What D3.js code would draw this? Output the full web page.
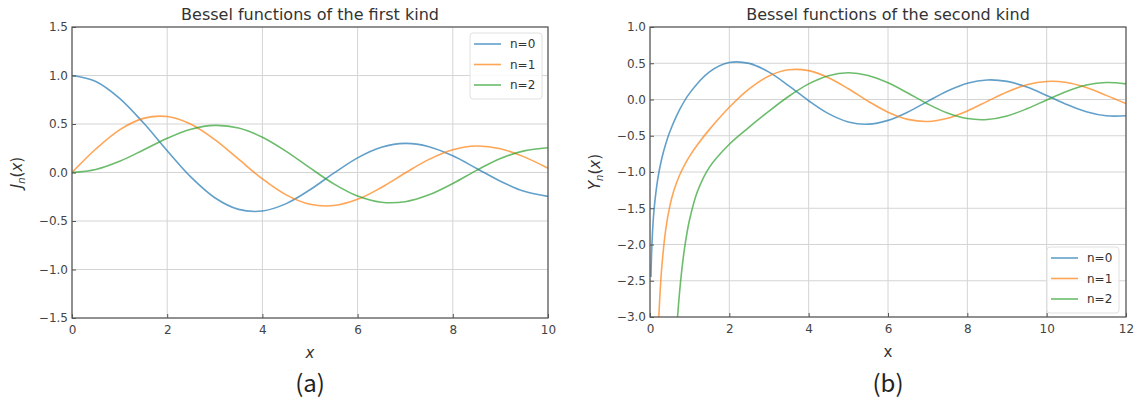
<!DOCTYPE html>
<html>
<head>
<meta charset="utf-8">
<script src="https://cdn.jsdelivr.net/npm/d3@7"></script>
<style>
body { margin: 0; background: #fff; }
text { font-family: "DejaVu Sans", sans-serif; fill: #333; }
</style>
</head>
<body>
<svg width="1135" height="403"></svg>
<script>
// values (first kind, x = 0 .. 10)
const jX = [0,0.5,1,1.5,2,2.5,3,3.5,4,4.5,5,5.5,6,6.5,7,7.5,8,8.5,9,9.5,10]
const j0 = [1,0.939,0.765,0.512,0.224,-0.048,-0.260,-0.380,-0.397,-0.321,-0.178,-0.007,0.151,0.260,0.300,0.266,0.172,0.042,-0.090,-0.194,-0.246]
const j1 = [0,0.242,0.440,0.558,0.577,0.497,0.339,0.137,-0.066,-0.231,-0.328,-0.341,-0.277,-0.154,-0.005,0.135,0.235,0.273,0.245,0.161,0.044]
const j2 = [0,0.031,0.115,0.232,0.353,0.446,0.486,0.459,0.364,0.218,0.047,-0.117,-0.243,-0.307,-0.301,-0.230,-0.113,0.022,0.145,0.223,0.255]

// second kind, x = 0 .. 12 (denser near the singularity)
const y0X = [0.024,0.05,0.1,0.2,0.3,0.4,0.5,0.75,1,1.5,2,2.5,3,3.5,4,4.5,5,5.5,6,6.5,7,7.5,8,8.5,9,9.5,10,10.5,11,11.5,12]
const y0 = [-2.448,-1.979,-1.534,-1.081,-0.807,-0.606,-0.445,-0.137,0.088,0.382,0.510,0.498,0.377,0.189,-0.017,-0.195,-0.309,-0.340,-0.288,-0.173,-0.026,0.117,0.224,0.270,0.250,0.171,0.056,-0.068,-0.169,-0.225,-0.225]
const y1X = [0.1,0.2,0.25,0.3,0.4,0.5,0.6,0.75,0.9,1,1.2,1.5,2,2.5,3,3.5,4,4.5,5,5.5,6,6.5,7,7.5,8,8.5,9,9.5,10,10.5,11,11.5,12]
const y1 = [-6.459,-3.324,-2.705,-2.293,-1.781,-1.471,-1.260,-1.038,-0.873,-0.781,-0.621,-0.412,-0.107,0.146,0.325,0.410,0.398,0.301,0.148,-0.024,-0.175,-0.274,-0.303,-0.259,-0.158,-0.026,0.104,0.203,0.249,0.234,0.164,0.057,-0.057]
const y2X = [0.5,0.6,0.7,0.8,0.9,1,1.2,1.5,2,2.5,3,3.5,4,4.5,5,5.5,6,6.5,7,7.5,8,8.5,9,9.5,10,10.5,11,11.5,12]
const y2 = [-5.441,-3.892,-2.962,-2.359,-1.946,-1.651,-1.263,-0.932,-0.617,-0.381,-0.160,0.045,0.216,0.329,0.368,0.331,0.230,0.089,-0.061,-0.186,-0.263,-0.276,-0.227,-0.128,-0.006,0.112,0.199,0.235,0.216]

const names = ['n=0', 'n=1', 'n=2']
const colors = ['#1f77b4', '#ff7f0e', '#2ca02c']

const xTicksA = [0,2,4,6,8,10]
const yTicksA = [-1.5,-1.0,-0.5,0.0,0.5,1.0,1.5]
const xTicksB = [0,2,4,6,8,10,12]
const yTicksB = [-3.0,-2.5,-2.0,-1.5,-1.0,-0.5,0.0,0.5,1.0]

let svg = d3.select('svg')
let fmt = d3.format('.1f')

function panel(p) {
    let x = d3.scaleLinear().domain(p.xDomain).range([p.left, p.right])
    let y = d3.scaleLinear().domain(p.yDomain).range([p.bottom, p.top])
    let g = svg.append('g')

    // grid
    g.append('g').selectAll('line').data(p.xTicks).enter().append('line')
        .attr('x1', d => x(d)).attr('x2', d => x(d)).attr('y1', p.top).attr('y2', p.bottom)
        .style('stroke', '#d4d4d4').style('stroke-width', 1)
    g.append('g').selectAll('line').data(p.yTicks).enter().append('line')
        .attr('y1', d => y(d)).attr('y2', d => y(d)).attr('x1', p.left).attr('x2', p.right)
        .style('stroke', '#d4d4d4').style('stroke-width', 1)

    // curves
    let clipId = 'clip' + p.id
    svg.append('clipPath').attr('id', clipId).append('rect')
        .attr('x', p.left).attr('y', p.top).attr('width', p.right - p.left).attr('height', p.bottom - p.top)
    let line = d3.line().x(d => x(d[0])).y(d => y(d[1])).curve(d3.curveCatmullRom.alpha(0.5))
    p.series.forEach((s, i) => {
        g.append('path')
            .attr('clip-path', `url(#${clipId})`)
            .attr('d', line(s.xs.map((v, k) => [v, s.ys[k]])))
            .style('fill', 'none')
            .style('stroke', colors[i])
            .style('stroke-opacity', 0.7)
            .style('stroke-width', 1.6)
    })

    // axes (ticks pointing inward)
    let ax = g.append('g').attr('transform', `translate(0,${p.bottom})`)
        .call(d3.axisBottom(x).tickValues(p.xTicks).tickFormat(d3.format('d')).tickSizeInner(-4).tickSizeOuter(0).tickPadding(5))
    let ay = g.append('g').attr('transform', `translate(${p.left},0)`)
        .call(d3.axisLeft(y).tickValues(p.yTicks).tickFormat(fmt).tickSizeInner(-4).tickSizeOuter(0).tickPadding(4))
    ;[ax, ay].forEach(a => {
        a.select('.domain').remove()
        a.selectAll('line').style('stroke', '#555')
        a.selectAll('text').style('font-size', '12px').style('fill', '#444')
            .style('font-family', '"DejaVu Sans", sans-serif')
    })
    ax.selectAll('text').attr('dy', '0.95em')

    g.append('rect')
        .attr('x', p.left).attr('y', p.top).attr('width', p.right - p.left).attr('height', p.bottom - p.top)
        .style('fill', 'none').style('stroke', '#555').style('stroke-width', 1.2)

    // title
    g.append('text').attr('x', (p.left + p.right) / 2).attr('y', p.top - 7)
        .attr('text-anchor', 'middle').style('font-size', '16px').text(p.title)

    // x label
    g.append('text').attr('x', (p.left + p.right) / 2).attr('y', p.bottom + 40)
        .attr('text-anchor', 'middle').style('font-size', '15px')
        .style('font-style', p.xItalic ? 'italic' : 'normal').text('x')

    // y label
    let yl = g.append('text')
        .attr('transform', `translate(${p.yLabelX},${(p.top + p.bottom) / 2}) rotate(-90)`)
        .attr('text-anchor', 'middle').style('font-size', '15px')
    yl.append('tspan').style('font-style', 'italic').text(p.yLetter)
    yl.append('tspan').style('font-style', 'italic').style('font-size', '10px').attr('dy', 3).text('n')
    yl.append('tspan').attr('dy', -3).text('(')
    yl.append('tspan').style('font-style', 'italic').text('x')
    yl.append('tspan').text(')')

    // caption
    g.append('text').attr('x', (p.left + p.right) / 2).attr('y', 392)
        .attr('text-anchor', 'middle').style('font-size', '24px').style('fill', '#222')
        .style('font-family', '"Noto Sans CJK SC", sans-serif').text(p.caption)

    // legend
    let lg = g.append('g').attr('transform', `translate(${p.legend[0]},${p.legend[1]})`)
    lg.append('rect').attr('width', 72).attr('height', 66).attr('rx', 3)
        .style('fill', 'white').style('fill-opacity', 0.85).style('stroke', '#e0e0e0')
    names.forEach((n, i) => {
        lg.append('line').attr('x1', 4).attr('x2', 31).attr('y1', 11 + i * 20.5).attr('y2', 11 + i * 20.5)
            .style('stroke', colors[i]).style('stroke-opacity', 0.7).style('stroke-width', 1.6)
        lg.append('text').attr('x', 40).attr('y', 11 + i * 20.5).attr('dy', '0.35em')
            .style('font-size', '12px').text(n)
    })
}

panel({
    id: 'a', left: 72, right: 548, top: 27, bottom: 318,
    xDomain: [0, 10], yDomain: [-1.5, 1.5], xTicks: xTicksA, yTicks: yTicksA,
    title: 'Bessel functions of the first kind', yLetter: 'J', yLabelX: 22, xItalic: true,
    caption: '(a)', legend: [470, 33],
    series: [{xs: jX, ys: j0}, {xs: jX, ys: j1}, {xs: jX, ys: j2}]
})

panel({
    id: 'b', left: 650, right: 1126, top: 27, bottom: 317,
    xDomain: [0, 12], yDomain: [-3, 1], xTicks: xTicksB, yTicks: yTicksB,
    title: 'Bessel functions of the second kind', yLetter: 'Y', yLabelX: 600, xItalic: false,
    caption: '(b)', legend: [1047, 247],
    series: [{xs: y0X, ys: y0}, {xs: y1X, ys: y1}, {xs: y2X, ys: y2}]
})
</script>
</body>
</html>
